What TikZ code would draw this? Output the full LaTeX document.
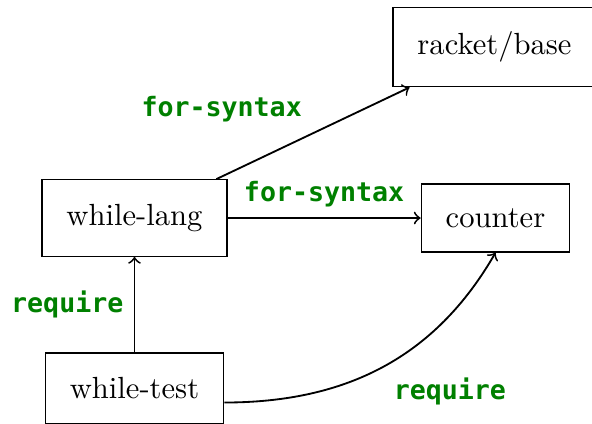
\documentclass[tikz,border=0pt]{standalone}
\usepackage{fontspec}
\newfontfamily\lblfont{DejaVu Sans Mono}
\definecolor{lblgreen}{RGB}{0,128,0}
\begin{document}
\begin{tikzpicture}[x=0.3268pt,y=-0.3268pt,
  mod/.style={draw, line width=0.4pt, inner sep=8pt},
  dep/.style={->, semithick},
  lbl/.style={text=lblgreen, font=\lblfont\bfseries\fontsize{8.7}{10}\selectfont}]
\useasboundingbox (0,0) rectangle (592,423);
\node[mod] (rb) at (494.5,47) {racket/base};
\node[mod] (wl) at (134.5,218) {while-lang};
\node[mod] (ct) at (495.5,218) {counter};
\node[mod] (wt) at (134.5,388.3) {while-test};
\draw[dep] (wl) -- node[lbl, midway, above left] {for-syntax} (rb);
\draw[dep] (wl) -- node[lbl, midway, above] {for-syntax} (ct);
\draw[dep] (wt) -- node[lbl, midway, left] {require} (wl);
\draw[dep] (wt.-9) to[out=0, in=-120] node[lbl, midway, below right] {require} (ct.south);
\end{tikzpicture}
\end{document}
